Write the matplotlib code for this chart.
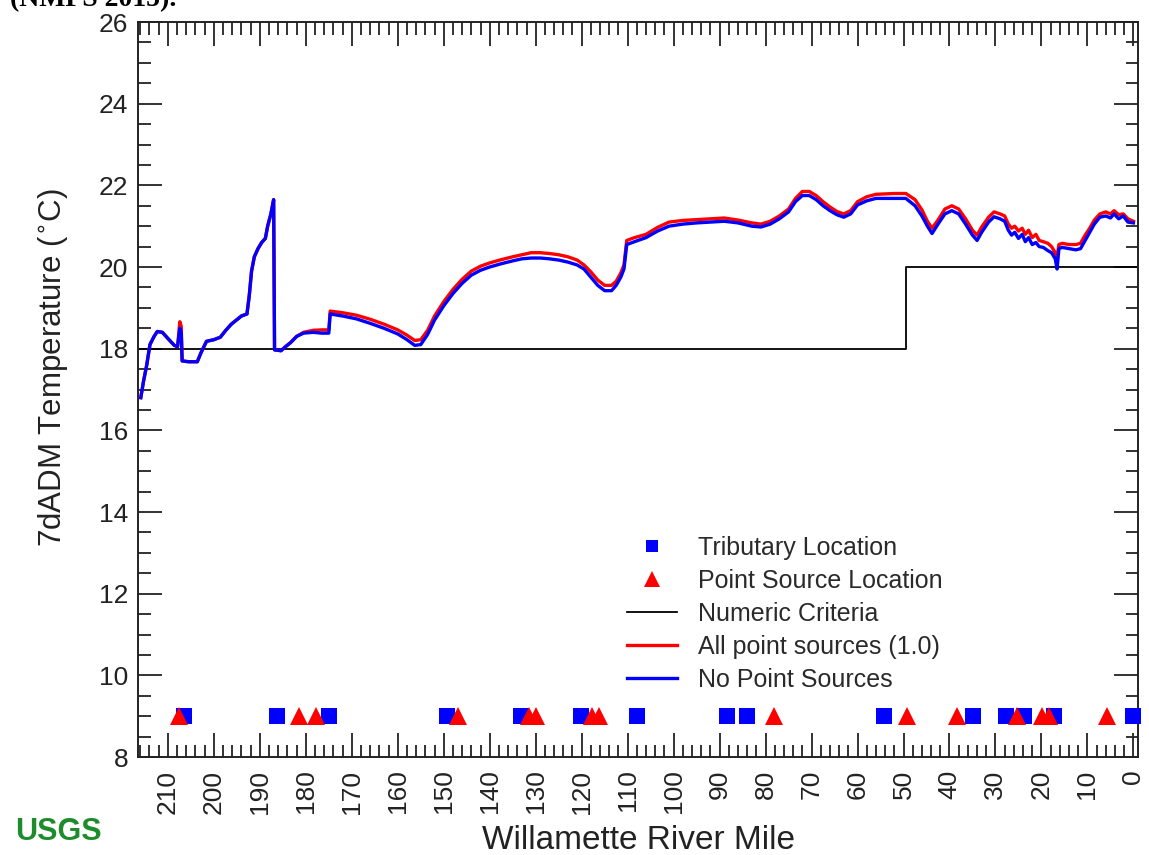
import matplotlib
matplotlib.use("Agg")
import matplotlib.pyplot as plt
from matplotlib.ticker import MultipleLocator
from matplotlib.lines import Line2D

plt.rcParams['font.family'] = ['Liberation Sans', 'DejaVu Sans']

# River mile stations along the modeled reach
river_mile = [
    215.9, 215.3, 214.6, 213.9, 213.0, 212.3, 211.2, 210.0, 208.6, 207.9,
    207.4, 207.1, 206.9, 205.5, 203.6, 202.8, 201.6, 200.0, 198.6, 197.4,
    196.2, 194.9, 194.0, 192.8, 192.3, 191.8, 191.2, 190.4, 189.6, 188.8,
    188.3, 187.6, 187.0, 186.8, 185.4, 184.4, 183.3, 182.0, 180.5, 178.4,
    176.5, 175.0, 174.7, 172.0, 169.0, 166.0, 163.0, 160.0, 158.0, 156.3,
    155.0, 153.5, 152.0, 150.0, 148.0, 146.0, 144.0, 142.0, 140.0, 137.5,
    135.0, 133.0, 131.0, 129.0, 127.0, 125.0, 123.0, 121.0, 119.5, 118.0,
    116.5, 115.0, 113.5, 112.5, 111.5, 110.8, 110.2, 108.5, 106.0, 103.5,
    101.0, 98.0, 95.0, 92.0, 89.0, 86.0, 83.0, 81.0, 79.0, 77.0,
    75.0, 73.5, 72.0, 70.5, 69.0, 67.5, 66.0, 64.5, 63.0, 61.5,
    60.0, 58.0, 56.0, 52.0, 49.5, 47.5, 46.0, 44.8, 43.8, 42.5,
    41.0, 39.5, 38.0, 36.5, 35.0, 34.0, 33.0, 31.5, 30.3, 29.0,
    28.0, 27.2, 26.5, 25.8, 25.0, 24.2, 23.5, 22.8, 22.0, 21.2,
    20.5, 19.6, 18.6, 17.8, 17.0, 16.6, 16.2, 15.5, 14.0, 12.5,
    11.5, 10.5, 9.5, 8.5, 7.3, 6.0, 5.0, 4.2, 3.2, 2.2,
    1.2, 0.0,
]

# 7-day average daily maximum temperature, no point sources (deg C)
temp_no_ps = [
    16.80, 17.20, 17.60, 18.10, 18.30, 18.42, 18.40, 18.25, 18.08, 18.05,
    18.50, 18.40, 17.70, 17.68, 17.68, 17.90, 18.18, 18.22, 18.28, 18.45,
    18.60, 18.72, 18.80, 18.85, 19.30, 19.90, 20.25, 20.45, 20.60, 20.70,
    21.00, 21.30, 21.65, 17.97, 17.95, 18.05, 18.15, 18.30, 18.38, 18.40,
    18.38, 18.38, 18.85, 18.80, 18.73, 18.62, 18.50, 18.36, 18.22, 18.08,
    18.10, 18.35, 18.70, 19.05, 19.35, 19.60, 19.80, 19.92, 20.00, 20.08,
    20.15, 20.20, 20.22, 20.22, 20.20, 20.17, 20.12, 20.05, 19.95, 19.75,
    19.55, 19.42, 19.42, 19.55, 19.75, 19.95, 20.55, 20.62, 20.72, 20.88,
    21.00, 21.05, 21.08, 21.10, 21.12, 21.08, 21.00, 20.98, 21.05, 21.18,
    21.35, 21.60, 21.75, 21.75, 21.65, 21.50, 21.38, 21.28, 21.22, 21.30,
    21.52, 21.62, 21.68, 21.68, 21.68, 21.50, 21.25, 21.00, 20.82, 21.05,
    21.30, 21.38, 21.30, 21.05, 20.78, 20.65, 20.85, 21.10, 21.23, 21.18,
    21.12, 20.90, 20.78, 20.85, 20.70, 20.80, 20.62, 20.72, 20.55, 20.60,
    20.50, 20.48, 20.40, 20.35, 20.20, 19.95, 20.45, 20.48, 20.45, 20.42,
    20.45, 20.65, 20.85, 21.05, 21.22, 21.25, 21.20, 21.30, 21.18, 21.25,
    21.10, 21.08,
]

# 7-day average daily maximum temperature, all point sources at 1.0 (deg C)
temp_all_ps = [
    16.80, 17.20, 17.60, 18.10, 18.30, 18.42, 18.40, 18.25, 18.08, 18.05,
    18.66, 18.55, 17.70, 17.68, 17.68, 17.90, 18.18, 18.22, 18.28, 18.45,
    18.60, 18.72, 18.80, 18.85, 19.30, 19.90, 20.25, 20.45, 20.60, 20.70,
    21.00, 21.30, 21.65, 17.97, 17.95, 18.05, 18.15, 18.30, 18.40, 18.45,
    18.46, 18.46, 18.92, 18.88, 18.82, 18.72, 18.60, 18.46, 18.33, 18.20,
    18.22, 18.45, 18.80, 19.15, 19.45, 19.70, 19.90, 20.02, 20.10, 20.18,
    20.25, 20.30, 20.35, 20.35, 20.33, 20.30, 20.25, 20.17, 20.05, 19.88,
    19.68, 19.55, 19.55, 19.65, 19.85, 20.05, 20.65, 20.72, 20.80, 20.97,
    21.10, 21.14, 21.16, 21.18, 21.20, 21.15, 21.08, 21.05, 21.12, 21.25,
    21.42, 21.68, 21.85, 21.85, 21.75, 21.60, 21.47, 21.36, 21.30, 21.38,
    21.60, 21.72, 21.78, 21.80, 21.80, 21.65, 21.40, 21.12, 20.95, 21.15,
    21.42, 21.50, 21.42, 21.18, 20.90, 20.78, 20.98, 21.22, 21.35, 21.30,
    21.25, 21.05, 20.95, 21.00, 20.88, 20.95, 20.80, 20.90, 20.72, 20.80,
    20.65, 20.62, 20.58, 20.50, 20.35, 20.25, 20.55, 20.58, 20.55, 20.55,
    20.58, 20.78, 20.95, 21.15, 21.30, 21.35, 21.30, 21.38, 21.28, 21.30,
    21.18, 21.12,
]

# Numeric temperature criteria (step change near river mile 49.5)
criteria_mile = [216.5, 49.5, 49.5, -1.0]
criteria_temp = [18.0, 18.0, 20.0, 20.0]

# Tributary and point source locations (river mile)
tributary_mile = [206.5, 186.2, 174.9, 149.2, 133.3, 120.2, 108.0, 88.3,
                  84.0, 54.3, 34.8, 27.8, 23.9, 17.3, 0.1]
point_source_mile = [207.5, 181.4, 177.8, 146.9, 131.5, 130.0, 117.7, 116.2,
                     78.2, 49.3, 38.3, 25.3, 19.8, 18.4, 5.7]
marker_level = 9.0

W, H = 1149, 855
fig = plt.figure(figsize=(W / 100, H / 100), dpi=100)
ax = fig.add_axes([138 / W, 1 - 757 / H, 1000 / W, 735 / H])

ax.plot(criteria_mile, criteria_temp, color='black', lw=1.3, zorder=2)
ax.plot(river_mile, temp_all_ps, color='#ff0000', lw=2.4, zorder=3)
ax.plot(river_mile, temp_no_ps, color='#0000ff', lw=2.4, zorder=4)

ax.plot(tributary_mile, [marker_level] * len(tributary_mile), 's',
        color='#0000ff', ms=11, mew=0, zorder=5, clip_on=False)
ax.plot(point_source_mile, [marker_level] * len(point_source_mile), '^',
        color='#ff0000', ms=13, mew=0, zorder=6, clip_on=False)

ax.set_xlim(216.5, -1.0)
ax.set_ylim(8, 26)
ax.xaxis.set_major_locator(MultipleLocator(10))
ax.xaxis.set_minor_locator(MultipleLocator(2))
ax.yaxis.set_major_locator(MultipleLocator(2))
ax.yaxis.set_minor_locator(MultipleLocator(0.5))
ax.tick_params(which='both', direction='in', top=True, right=True,
               color='#222222', width=1.3)
ax.tick_params(which='major', length=17)
ax.tick_params(which='minor', length=9)
ax.tick_params(axis='x', which='major', labelsize=19, pad=9,
               labelrotation=90, labelcolor='#222222')
ax.tick_params(axis='y', which='major', labelsize=19, pad=7,
               labelcolor='#222222')
for sp in ax.spines.values():
    sp.set_linewidth(1.4)
    sp.set_color('#222222')

ax.set_xlabel('Willamette River Mile', fontsize=24, color='#222222')
ax.xaxis.set_label_coords(0.5, -0.092)
ax.set_ylabel('7dADM Temperature ($^{\\circ}$C)', fontsize=22.5,
              color='#222222')
ax.yaxis.set_label_coords(-0.068, 0.53)

handles = [
    Line2D([], [], ls='none', marker='s', color='#0000ff', ms=9, mew=0),
    Line2D([], [], ls='none', marker='^', color='#ff0000', ms=12, mew=0),
    Line2D([], [], color='black', lw=1.3),
    Line2D([], [], color='#ff0000', lw=2.4),
    Line2D([], [], color='#0000ff', lw=2.4),
]
labels = ['Tributary Location', 'Point Source Location', 'Numeric Criteria',
          'All point sources (1.0)', 'No Point Sources']
leg = ax.legend(handles, labels, loc='upper left',
                bbox_to_anchor=(0.489, 0.3007), frameon=False, fontsize=18,
                handlelength=2.0, handletextpad=0.85, labelspacing=0.36,
                borderpad=0, borderaxespad=0)
for t in leg.get_texts():
    t.set_color('#2a2a2a')

fig.text(15 / W, 1 - 832 / H, 'USGS', fontsize=22, fontweight='bold',
         color='#1e8c2c', va='center', ha='left')
fig.text(10 / W, 1 - 6 / H, '(NMPS 2015).', fontsize=20, fontweight='bold',
         family=['Liberation Serif'], va='baseline', ha='left')

fig.savefig('out.png', dpi=100)
